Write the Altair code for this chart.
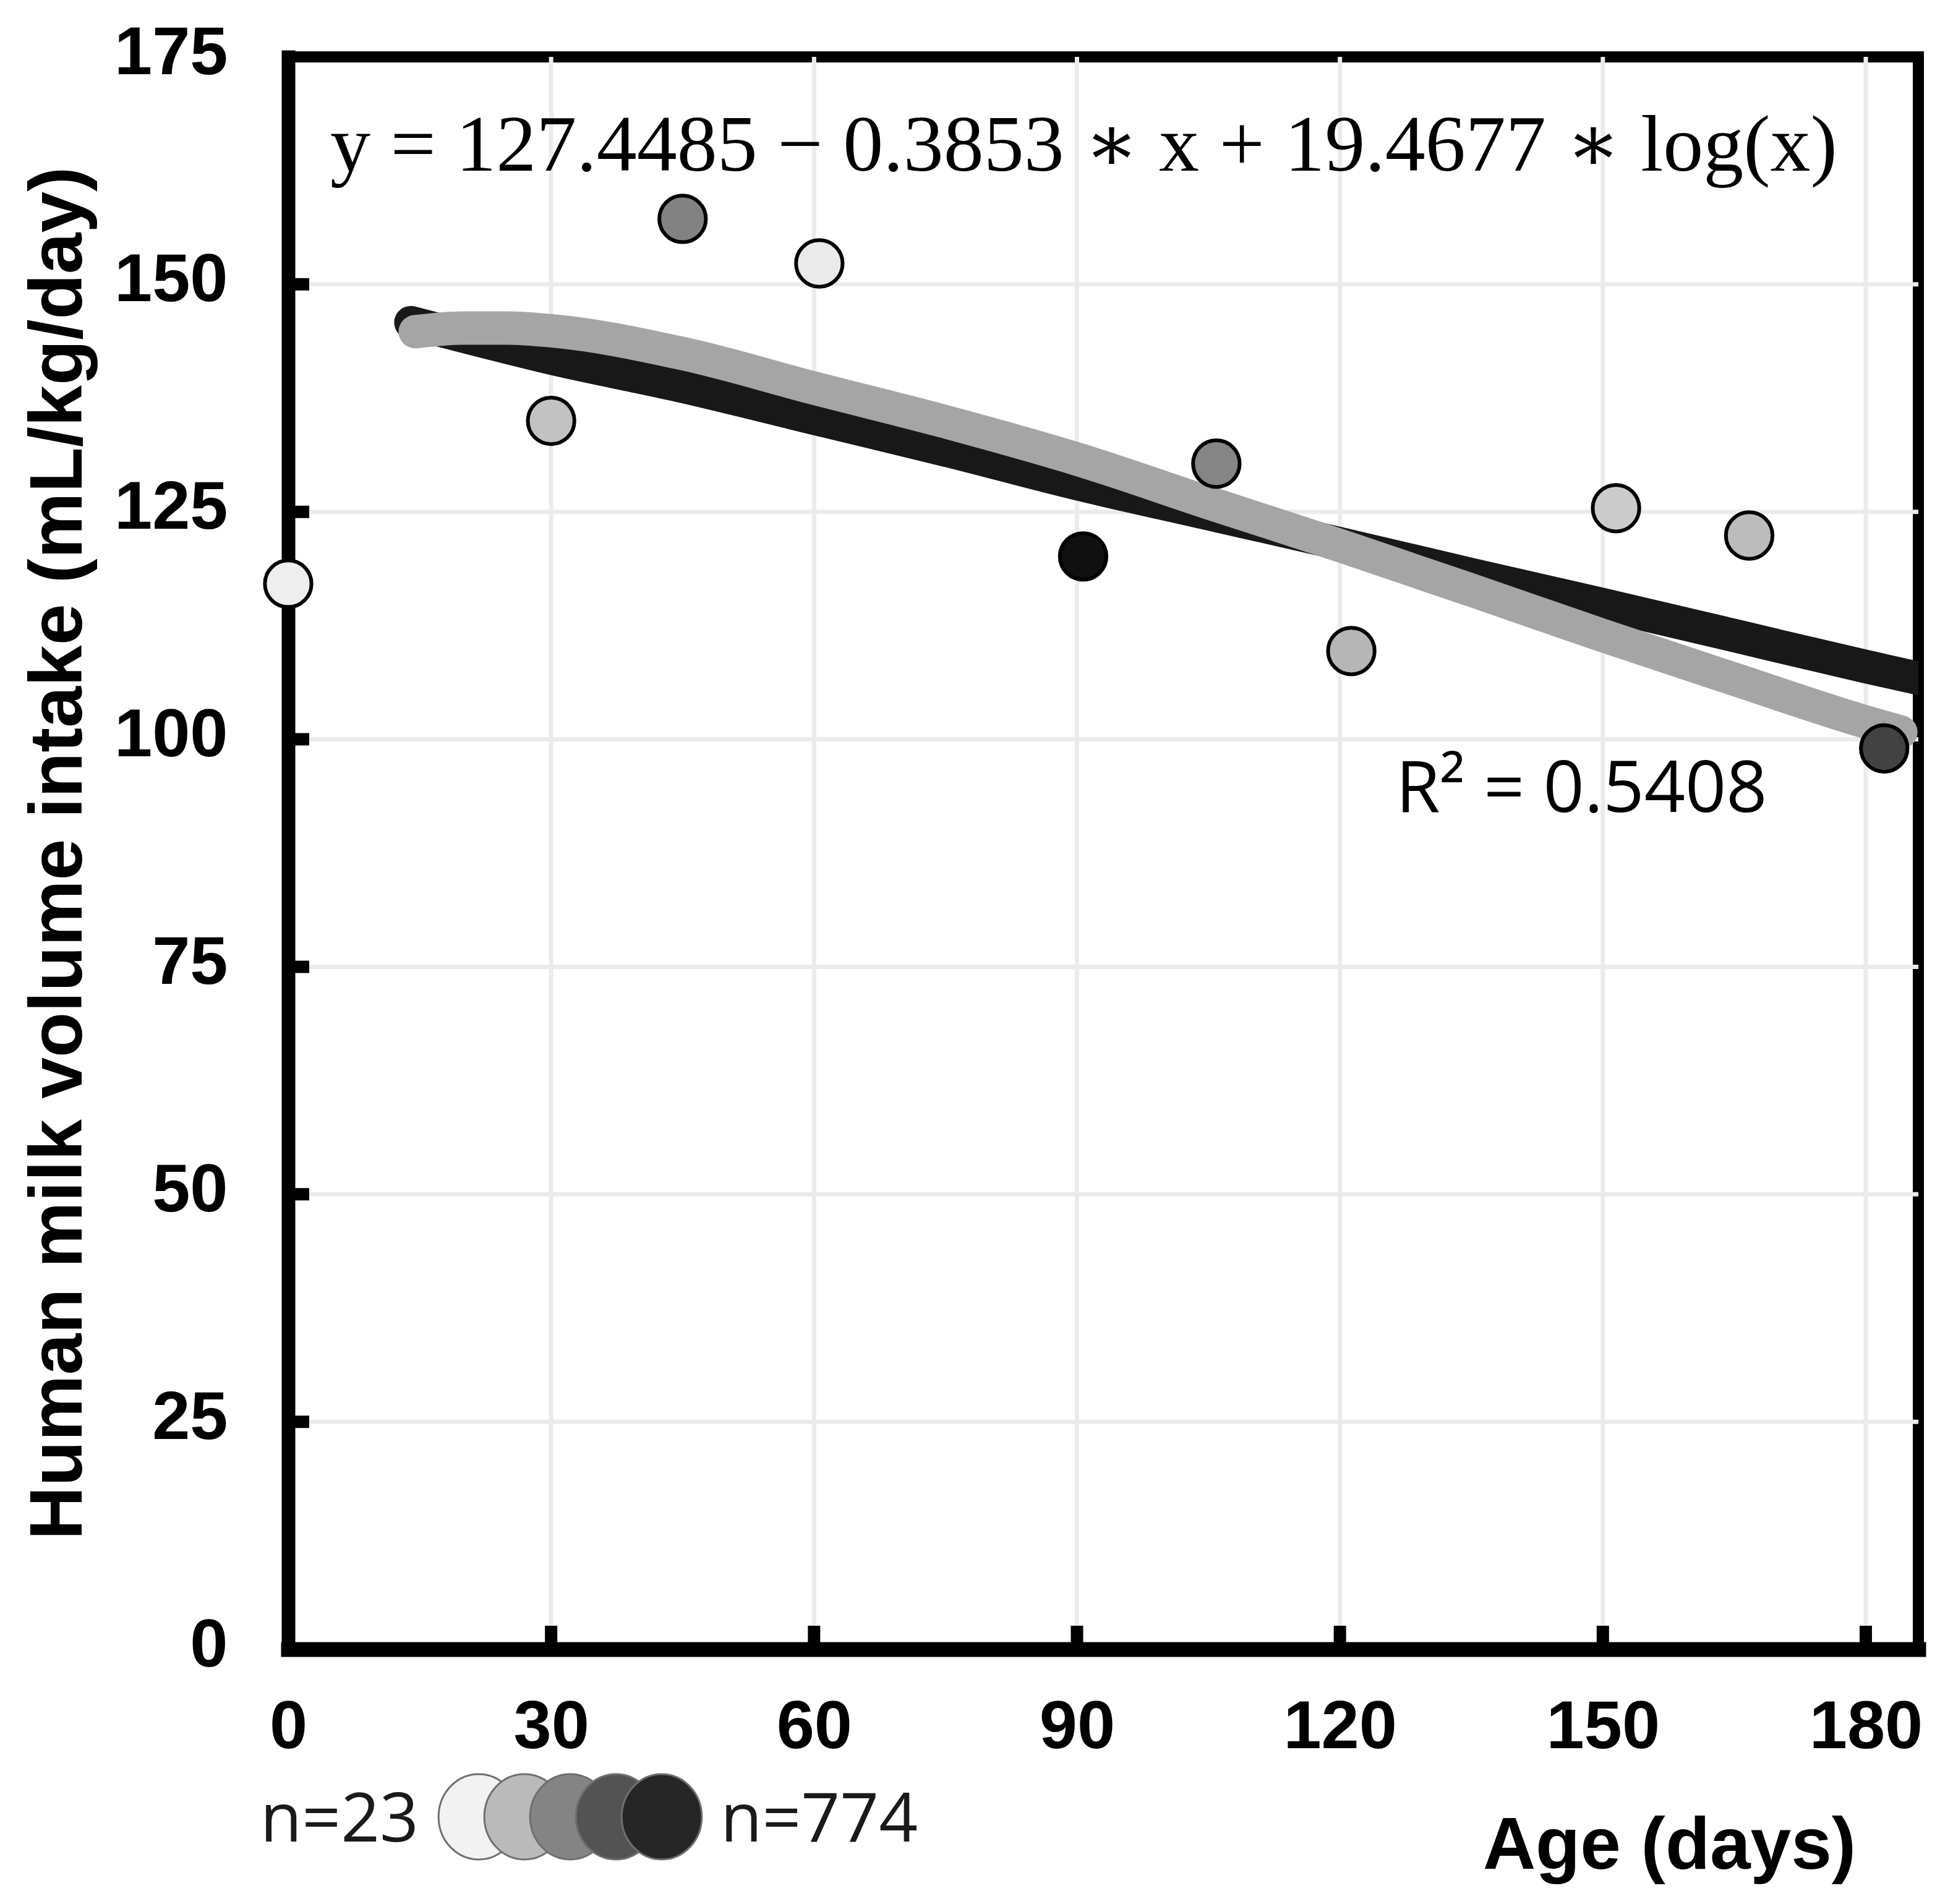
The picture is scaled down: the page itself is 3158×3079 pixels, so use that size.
import altair as alt
import pandas as pd

# ---------------- data ----------------
# scatter points (age in days, intake mL/kg/day, estimated sample size n)
point_age = [0, 30, 45, 60.6, 90.7, 105.9, 121.3, 151.5, 166.7, 182.1]
point_intake = [117.1, 135.0, 157.2, 152.3, 120.1, 130.3, 109.7, 125.4, 122.4, 99.0]
point_n = [39, 168, 366, 53, 774, 356, 204, 142, 188, 583]

# black fitted curve
black_age = [14, 20, 30, 45, 60, 75, 90, 105, 120, 135, 150, 165, 180, 186]
black_intake = [145.8, 144.3, 141.9, 138.8, 135.3, 131.8, 128.1, 124.8, 121.5, 118.1, 114.8, 111.4, 108.0, 106.7]

# grey fitted curve
grey_age = [14.5, 20, 25, 30, 45, 60, 75, 90, 105, 120, 135, 150, 165, 180, 184]
grey_intake = [144.8, 145.2, 145.2, 144.9, 142.4, 138.6, 134.9, 130.8, 126.0, 121.3, 116.4, 111.4, 106.6, 101.9, 100.8]

# axis ticks
x_ticks = [0, 30, 60, 90, 120, 150, 180]
y_ticks = [0, 25, 50, 75, 100, 125, 150, 175]
x_inner_ticks = [30, 60, 90, 120, 150, 180]
y_inner_ticks = [25, 50, 75, 100, 125, 150]

# legend (sample size gradient)
legend_n = [23, 211, 399, 586, 774]
legend_labels = ["n=23", "n=774"]

equation_text = "y = 127.4485  \u2212 0.3853 \u2217 x  + 19.4677 \u2217 log(x)"
r2_text = "R\u00b2 = 0.5408"

# ---------------- chart ----------------
W, H = 2636, 2575
X_DOMAIN = [0, 186]
Y_DOMAIN = [0, 175]

xs = alt.Scale(domain=X_DOMAIN, nice=False, zero=False)
ys = alt.Scale(domain=Y_DOMAIN, nice=False, zero=False)

x_axis = alt.Axis(
    values=x_ticks, grid=False,
    domainColor="black", domainWidth=24, domainCap="square",
    ticks=False, tickSize=0,
    labelFont="Liberation Sans", labelFontWeight="bold", labelFontSize=110,
    labelColor="black", labelPadding=72, labelFlush=False, labelOverlap=False,
    labelLimit=0,
    title="Age (days)", titleFont="Liberation Sans", titleFontWeight="bold",
    titleFontSize=118, titleColor="black", titleX=2233, titleY=354,
    titleAlign="center", titleBaseline="alphabetic", titleLimit=0,
)
y_axis = alt.Axis(
    values=y_ticks, grid=False,
    domainColor="black", domainWidth=22, domainCap="square",
    ticks=False, tickSize=0,
    labelFont="Liberation Sans", labelFontWeight="bold", labelFontSize=110,
    labelColor="black", labelPadding=98, labelFlush=False, labelOverlap=False,
    labelLimit=0, labelOffset=-6,
    title="Human milk volume intake (mL/kg/day)", titleFont="Liberation Sans",
    titleFontWeight="bold", titleFontSize=120, titleColor="black",
    titleAngle=270, titleX=-371, titleY=H / 2, titleAlign="center",
    titleBaseline="middle", titleLimit=0,
)

def X(field):
    return alt.X(f"{field}:Q", scale=xs, axis=x_axis)

def Y(field):
    return alt.Y(f"{field}:Q", scale=ys, axis=y_axis)

pts = pd.DataFrame({"age": point_age, "intake": point_intake, "n": point_n})
blk = pd.DataFrame({"age": black_age, "intake": black_intake})
gry = pd.DataFrame({"age": grey_age, "intake": grey_intake})
yt = pd.DataFrame({"intake": y_inner_ticks})
xt = pd.DataFrame({"age": x_inner_ticks})

# light grid lines (inside the frame only)
y_grid = alt.Chart(yt).mark_rule(color="#ebebeb", strokeWidth=7).encode(
    y=Y("intake"), x=alt.value(0), x2=alt.value(W)
)
x_grid = alt.Chart(xt).mark_rule(color="#ebebeb", strokeWidth=7).encode(
    x=X("age"), y=alt.value(0), y2=alt.value(H)
)

# inward tick marks
y_tick_layer = alt.Chart(yt).mark_rule(color="black", strokeWidth=20).encode(
    y=Y("intake"), x=alt.value(0), x2=alt.value(34)
)
x_tick_layer = alt.Chart(xt).mark_rule(color="black", strokeWidth=20).encode(
    x=X("age"), y=alt.value(H), y2=alt.value(H - 38)
)

black_line = alt.Chart(blk).mark_line(
    color="#181818", strokeWidth=54, strokeCap="round", strokeJoin="round",
    interpolate="monotone", clip=True
).encode(x=X("age"), y=Y("intake"), order="age:Q")

grey_line = alt.Chart(gry).mark_line(
    color="#a5a5a5", strokeWidth=54, strokeCap="round", strokeJoin="round",
    interpolate="monotone"
).encode(x=X("age"), y=Y("intake"), order="age:Q")

points = alt.Chart(pts).mark_point(
    shape="circle", filled=True, size=5675, stroke="black", strokeWidth=6, opacity=1
).encode(
    x=X("age"), y=Y("intake"),
    fill=alt.Fill("n:Q", scale=alt.Scale(domain=[23, 774], range=["#f4f4f4", "#101010"], clamp=True), legend=None),
)

eq_layer = alt.Chart(pd.DataFrame({"t": [equation_text]})).mark_text(
    font="Liberation Serif, DejaVu Serif", fontSize=130, align="left",
    baseline="alphabetic", color="black"
).encode(text="t:N", x=alt.value(68), y=alt.value(184))

r2_layer = alt.Chart(pd.DataFrame({"t": [r2_text]})).mark_text(
    font="Open Sans", fontSize=116, align="left", baseline="alphabetic", color="black"
).encode(text="t:N", x=alt.value(1791), y=alt.value(1221))

main = alt.layer(y_grid, x_grid, y_tick_layer, x_tick_layer, black_line, grey_line,
                 points, eq_layer, r2_layer)

# ---------------- legend below the axis ----------------
leg = pd.DataFrame({"k": list(range(len(legend_n))), "n": legend_n})
ends = pd.DataFrame({"k": [0, len(legend_n) - 1], "label": legend_labels})
leg_x = alt.Scale(domain=[0, len(legend_n) - 1], range=[308, 604])
ellipse = "M 0 -1 A 0.94 1 0 1 1 0 1 A 0.94 1 0 1 1 0 -1 Z"

leg_circles = alt.Chart(leg).mark_point(
    shape=ellipse, filled=True, size=19044, stroke="#6f6f6f", strokeWidth=3, opacity=1
).encode(
    x=alt.X("k:Q", scale=leg_x, axis=None),
    y=alt.value(2846),
    fill=alt.Fill("n:Q", scale=alt.Scale(domain=[23, 774], range=["#f2f2f2", "#262626"]), legend=None),
    order="k:Q",
)
leg_left = alt.Chart(ends).transform_filter(alt.datum.k == 0).mark_text(
    font="Open Sans", fontSize=110, align="right", baseline="alphabetic", color="#1a1a1a", dx=-97
).encode(x=alt.X("k:Q", scale=leg_x, axis=None), y=alt.value(2886), text="label:N")
leg_right = alt.Chart(ends).transform_filter(alt.datum.k == len(legend_n) - 1).mark_text(
    font="Open Sans", fontSize=110, align="left", baseline="alphabetic", color="#1a1a1a", dx=95
).encode(x=alt.X("k:Q", scale=leg_x, axis=None), y=alt.value(2886), text="label:N")

legend = alt.layer(leg_circles, leg_left, leg_right)

chart = alt.layer(main, legend).resolve_scale(x="independent", fill="independent").properties(
    width=W, height=H,
    autosize=alt.AutoSizeParams(type="none"),
    padding={"left": 458, "top": 84, "right": 48, "bottom": 400},
    background="white",
).configure_view(stroke="black", strokeWidth=18)

chart.save("out.html", embed_options={"renderer": "svg", "actions": False})
